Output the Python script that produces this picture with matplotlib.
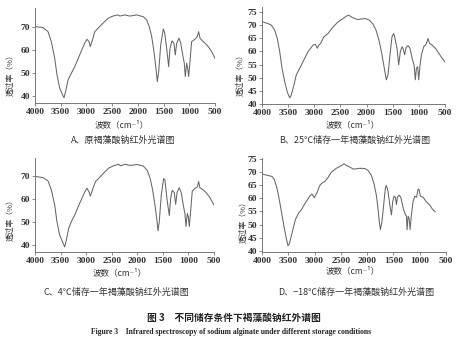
import matplotlib
matplotlib.use("Agg")
import matplotlib.pyplot as plt

# ---------------- data ----------------
wn_A = [4000, 3844, 3747, 3683, 3617, 3572, 3520, 3469, 3436, 3403, 3358, 3294, 3228, 3131, 3034,
        2989, 2950, 2925, 2898, 2872, 2839, 2775, 2678, 2581, 2484, 2386, 2350, 2256, 2159, 2095,
        2023, 1894, 1829, 1778, 1731, 1687, 1648, 1622, 1595, 1556, 1505, 1480, 1440, 1401, 1375,
        1336, 1298, 1272, 1245, 1200, 1167, 1128, 1097, 1078, 1051, 1032, 1012, 987, 954, 909,
        870, 844, 818, 792, 760, 695, 630, 565, 500]
tr_A = [70.0, 69.6, 67.8, 63.5, 56.3, 49.0, 43.2, 40.6, 39.1, 42.0, 46.8, 49.7, 52.6, 57.7, 62.8,
        64.5, 63.5, 61.3, 63.2, 65.0, 67.8, 69.3, 71.5, 73.6, 74.6, 75.1, 74.6, 75.1, 74.6, 74.8,
        75.1, 74.3, 72.9, 70.0, 65.7, 59.1, 51.9, 46.1, 50.4, 62.0, 69.0, 67.5, 60.6, 52.6, 60.6,
        63.8, 62.8, 57.7, 62.8, 65.0, 62.8, 57.7, 54.1, 48.3, 54.1, 52.0, 48.3, 54.8, 63.5, 64.2,
        65.0, 65.7, 67.8, 65.0, 64.2, 62.8, 61.3, 59.1, 56.2]

wn_B = [4000, 3885, 3822, 3757, 3707, 3661, 3617, 3566, 3516, 3470, 3439, 3388, 3344, 3279, 3216,
        3120, 3024, 2980, 2942, 2917, 2878, 2815, 2738, 2642, 2546, 2451, 2387, 2341, 2291, 2227,
        2163, 2120, 2024, 1947, 1884, 1819, 1756, 1705, 1661, 1622, 1590, 1552, 1514, 1482, 1463,
        1418, 1386, 1354, 1322, 1303, 1271, 1245, 1207, 1169, 1130, 1092, 1067, 1047, 1022, 1003,
        977, 951, 907, 862, 824, 798, 747, 683, 619, 555, 504]
tr_B = [71.3, 70.6, 70.0, 68.1, 64.9, 59.9, 53.6, 48.5, 44.5, 42.3, 43.5, 47.3, 51.1, 53.6, 56.1,
        59.9, 62.4, 62.7, 61.2, 62.3, 63.1, 65.6, 66.8, 69.3, 71.2, 72.5, 73.4, 73.8, 73.1, 72.5,
        72.1, 72.3, 72.5, 71.9, 70.6, 68.1, 63.7, 58.7, 53.6, 49.2, 51.1, 58.7, 65.6, 66.8, 65.6,
        61.2, 54.9, 59.9, 61.8, 61.2, 58.7, 61.4, 62.2, 61.2, 57.4, 54.9, 49.2, 53.6, 54.2, 49.2,
        54.9, 58.7, 61.8, 62.7, 64.9, 63.1, 62.4, 61.2, 59.3, 57.4, 56.1]

wn_C = [4000, 3844, 3746, 3681, 3615, 3570, 3517, 3466, 3420, 3388, 3342, 3291, 3225, 3127, 3030,
        2985, 2946, 2920, 2888, 2855, 2816, 2751, 2660, 2562, 2465, 2367, 2328, 2242, 2158, 2093,
        2012, 1882, 1804, 1752, 1707, 1660, 1621, 1595, 1570, 1530, 1484, 1459, 1420, 1374, 1347,
        1316, 1277, 1249, 1223, 1179, 1140, 1101, 1069, 1048, 1022, 1002, 983, 957, 925, 873,
        827, 800, 775, 722, 657, 592, 527, 475]
tr_C = [69.6, 69.1, 67.7, 63.8, 57.2, 49.9, 44.1, 41.5, 39.0, 41.9, 47.0, 49.9, 52.8, 57.9, 62.7,
        64.5, 63.0, 61.1, 62.9, 65.2, 67.4, 68.8, 71.0, 73.2, 74.2, 74.9, 74.2, 74.9, 74.4, 74.5,
        74.8, 74.1, 72.2, 69.0, 64.6, 58.1, 51.5, 46.0, 50.0, 61.7, 68.7, 68.0, 59.9, 52.6, 60.2,
        63.6, 62.6, 57.5, 62.6, 64.7, 62.5, 57.2, 53.5, 47.9, 53.5, 52.0, 47.9, 54.5, 63.2, 64.4,
        65.0, 67.4, 64.6, 64.0, 62.6, 60.8, 58.3, 56.2]

wn_D = [4000, 3810, 3766, 3715, 3665, 3620, 3576, 3538, 3506, 3480, 3430, 3367, 3303, 3259, 3177,
        3093, 3049, 3030, 3005, 2948, 2903, 2858, 2808, 2744, 2681, 2586, 2491, 2440, 2389, 2332,
        2268, 2205, 2141, 2045, 1982, 1919, 1869, 1824, 1793, 1768, 1748, 1717, 1685, 1653, 1634,
        1602, 1570, 1538, 1513, 1488, 1462, 1443, 1424, 1392, 1361, 1316, 1285, 1253, 1240, 1221,
        1202, 1183, 1158, 1126, 1094, 1062, 1031, 1012, 987, 936, 879, 815, 752, 707]
tr_D = [69.2, 68.3, 67.1, 63.9, 58.8, 53.7, 48.6, 44.8, 42.0, 42.7, 46.7, 51.8, 54.4, 55.4, 58.2,
        60.8, 61.6, 61.0, 60.2, 62.4, 64.8, 65.8, 66.3, 67.9, 69.9, 71.4, 72.4, 73.1, 72.4, 71.9,
        71.1, 71.2, 71.4, 71.3, 70.6, 68.7, 65.5, 61.1, 56.0, 50.9, 48.1, 51.3, 57.6, 63.9, 64.9,
        62.6, 57.6, 53.7, 58.8, 60.8, 60.4, 57.6, 60.4, 61.2, 60.4, 56.4, 54.4, 53.2, 48.1, 53.2,
        52.5, 48.1, 53.7, 58.8, 60.8, 60.4, 63.4, 63.4, 60.8, 60.4, 58.8, 57.6, 55.7, 54.9]

xticks = [4000, 3500, 3000, 2500, 2000, 1500, 1000, 500]
yticks_AC = [40, 50, 60, 70]
yticks_BD = [40, 45, 50, 55, 60, 65, 70, 75]

captions = ["A、原褐藻酸钠红外光谱图",
            "B、25℃储存一年褐藻酸钠红外光谱图",
            "C、4℃储存一年褐藻酸钠红外光谱图",
            "D、−18℃储存一年褐藻酸钠红外光谱图"]
ylabel = "透过率（%）"
xlabel = "波数（cm⁻¹）"
title_cn = "图 3　不同储存条件下褐藻酸钠红外谱图"
title_en = "Figure 3　Infrared spectroscopy of sodium alginate under different storage conditions"

# ---------------- layout ----------------
W, H = 458, 344
fig = plt.figure(figsize=(W / 100, H / 100), dpi=100)
fig.patch.set_facecolor("white")

CJK = ["Noto Sans CJK SC", "DejaVu Sans"]
SERIF = ["Liberation Serif", "Noto Sans CJK SC", "DejaVu Serif"]
TXT = "#333333"
LINE = "#666666"

def fx(x):
    return x / W

def fy(y):
    return 1 - y / H

def add_panel(x0, x1, y0, y1, wn, tr, ylim, yticks, xlim=(4000, 500)):
    ax = fig.add_axes([fx(x0), fy(y1), (x1 - x0) / W, (y1 - y0) / H])
    ax.plot(wn, tr, color=LINE, lw=0.75)
    ax.set_xlim(*xlim)
    ax.set_ylim(*ylim)
    ax.set_xticks(xticks)
    ax.set_yticks(yticks)
    for s in ["top", "right"]:
        ax.spines[s].set_visible(False)
    for s in ["left", "bottom"]:
        ax.spines[s].set_color("#777777")
        ax.spines[s].set_linewidth(0.7)
    ax.tick_params(direction="out", length=2, width=0.6, color="#777777",
                   labelsize=6.8, labelcolor=TXT, pad=1.3)
    for lab in ax.get_xticklabels() + ax.get_yticklabels():
        lab.set_family(SERIF)
        lab.set_fontweight("bold")
    ax.set_facecolor("none")
    return ax

add_panel(35, 215, 8, 103, wn_A, tr_A, (36.8, 78.1), yticks_AC)
add_panel(262, 445, 7, 104, wn_B, tr_B, (40, 76.9), yticks_BD)
add_panel(35, 214, 158, 252, wn_C, tr_C, (36.8, 77.6), yticks_AC)
add_panel(262, 446, 158, 252, wn_D, tr_D, (39.6, 75.3), yticks_BD)

# axis labels
for (x, y) in [(122, 125), (353, 125), (120, 273), (353, 271)]:
    fig.text(fx(x), fy(y), xlabel, ha="center", va="center", fontsize=6.1,
             family=CJK, color=TXT)
for (x, y) in [(10, 73), (240, 73), (10, 218), (243, 220)]:
    fig.text(fx(x), fy(y), ylabel, ha="center", va="center", fontsize=5.6,
             family=CJK, color=TXT, rotation=90)

# captions
for (x, y), cap in zip([(123, 140), (355, 140), (116, 292), (356, 292)], captions):
    fig.text(fx(x), fy(y), cap, ha="center", va="center", fontsize=6.5,
             family=CJK, color=TXT)

fig.text(fx(234), fy(318), title_cn, ha="center", va="center", fontsize=7.0,
         family=CJK, color="#222222", fontweight="bold")
fig.text(fx(231), fy(332), title_en, ha="center", va="center", fontsize=5.5,
         family=SERIF, color="#222222", fontweight="bold")

fig.savefig("out.png", dpi=100, facecolor="white")
